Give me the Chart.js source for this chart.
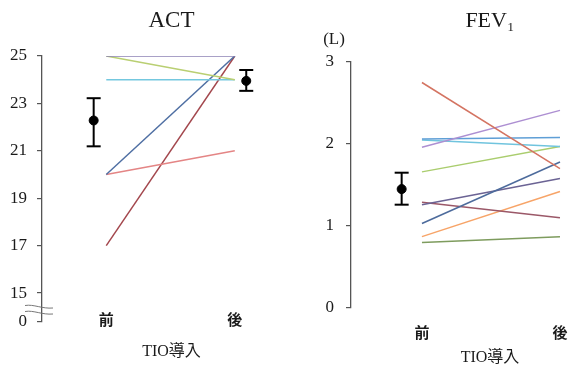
<!DOCTYPE html>
<html><head><meta charset="utf-8">
<script src="https://cdn.jsdelivr.net/npm/chart.js@4"></script>
<style>
html,body{margin:0;padding:0;background:#fff;overflow:hidden;width:568px;height:367px}
#a{position:absolute;left:0;top:0;width:310px;height:367px}
#b{position:absolute;left:300px;top:0;width:340px;height:367px}
</style></head><body>
<div id="a"><canvas id="ca"></canvas></div>
<div id="b"><canvas id="cb"></canvas></div>
<script>
// ---- data ----
const categories = ['前', '後'];
const actBefore = [25, 25, 24, 20, 20, 17];
const actAfter  = [25, 24, 24, 25, 21, 25];
const actColors = ['#8d82b4', '#b9cf72', '#74c8df', '#4f6fa3', '#e48585', '#a3474d'];
const actMean = [22.28, 23.95];
const actLow  = [21.19, 23.53];
const actHigh = [23.22, 24.41];
const actTicks = [0, 15, 17, 19, 21, 23, 25];

const fevBefore = [2.75, 1.96, 2.06, 2.05, 1.66, 1.03, 1.26, 1.29, 0.87, 0.80];
const fevAfter  = [1.70, 2.41, 2.08, 1.97, 1.97, 1.78, 1.58, 1.10, 1.42, 0.87];
const fevColors = ['#d47462', '#ad8fd2', '#5f9fd6', '#70c4de', '#aacd6e', '#4d6b9c', '#6b6394', '#9b5868', '#f7a468', '#7e9c5e'];
const fevMean = [1.45];
const fevLow  = [1.26];
const fevHigh = [1.65];
const fevTicks = [0, 1, 2, 3];

// ---- helpers ----
const SERIF = '"Liberation Serif", "Noto Sans CJK JP", serif';
const CJK = '"Noto Sans CJK JP", "Liberation Serif", sans-serif';
const INK = '#1a1a1a';
const AXIS = '#555';
const BREAK_BASE = 13.78; // position where the "0" of the broken ACT axis sits

function pairLines(before, after, colors) {
  return before.map((b, i) => ({
    type: 'line',
    data: [{x: 0, y: b}, {x: 1, y: after[i]}],
    borderColor: colors[i], borderWidth: 1.5, pointRadius: 0, fill: false
  }));
}
function errorBar(xPos, mean, low, high) {
  return [
    { type: 'line', data: [{x: xPos, y: low}, {x: xPos, y: high}], showLine: true,
      borderColor: '#000', borderWidth: 2, pointStyle: 'line', pointRadius: 7,
      pointBorderWidth: 2, pointBorderColor: '#000' },
    { type: 'line', data: [{x: xPos, y: mean}], showLine: false,
      pointStyle: 'circle', pointRadius: 4.5, pointBackgroundColor: '#000', pointBorderColor: '#000' }
  ];
}

const breakPlugin = {
  id: 'axisBreak',
  afterDraw(chart) {
    const y = chart.scales.y, ctx = chart.ctx;
    const left = chart.chartArea.left;
    const yb = y.getPixelForValue(BREAK_BASE) - 12;
    ctx.save();
    ctx.strokeStyle = '#777'; ctx.lineWidth = 1;
    [-3, 3].forEach(d => {
      ctx.beginPath();
      ctx.moveTo(left - 17, yb + d - 1.5);
      ctx.bezierCurveTo(left - 8, yb + d - 3, left, yb + d + 2, left + 11, yb + d + 1);
      ctx.stroke();
    });
    ctx.restore();
  }
};
const unitPlugin = {
  id: 'unitLabel',
  afterDraw(chart) {
    const ctx = chart.ctx, a = chart.chartArea;
    ctx.save();
    ctx.font = '17px ' + SERIF; ctx.fillStyle = INK;
    ctx.textAlign = 'center'; ctx.textBaseline = 'middle';
    ctx.fillText('(L)', a.left - 17, a.top - 22);
    ctx.restore();
  }
};

const common = {
  responsive: true, maintainAspectRatio: false, animation: false,
  plugins: { legend: { display: false }, tooltip: { enabled: false } }
};

function xScale(min, max, tickPad, titlePad, height) {
  return {
    type: 'linear', min, max,
    afterBuildTicks: s => { s.ticks = [{value: 0}, {value: 1}]; },
    afterFit: s => { s.height = height; s._computeLabelArea = () => undefined; },
    ticks: { callback: v => categories[v], padding: tickPad, autoSkip: false, maxRotation: 0,
             font: { family: CJK, size: 15, weight: 'bold' }, color: INK },
    grid: { display: false, drawTicks: false }, border: { display: false },
    title: { display: true, text: 'TIO導入', color: INK, font: { family: SERIF, size: 16 }, padding: titlePad }
  };
}

// ---- ACT ----
new Chart(document.getElementById('ca'), {
  type: 'line',
  data: { datasets: [
    ...pairLines(actBefore, actAfter, actColors),
    ...errorBar(-0.098, actMean[0], actLow[0], actHigh[0]),
    ...errorBar(1.089, actMean[1], actLow[1], actHigh[1])
  ]},
  options: {
    ...common,
    layout: { padding: { left: 0, right: 2, top: 0, bottom: 0 } },
    plugins: { ...common.plugins,
      title: { display: true, text: 'ACT', fullSize: false, color: INK,
               font: { family: SERIF, size: 23, weight: 'normal' }, padding: { top: 7, bottom: 21.4 } } },
    scales: {
      x: xScale(-0.5, 1.515, -12, { top: 0, bottom: 6 }, 45),
      y: {
        min: BREAK_BASE, max: 25,
        afterBuildTicks: s => { s.ticks = actTicks.map(v => ({ value: v === 0 ? BREAK_BASE : v })); },
        afterFit: s => { s.width = 42; },
        ticks: { callback: v => (v === BREAK_BASE ? '0' : String(v)), padding: 10, autoSkip: false,
                 font: { family: SERIF, size: 17 }, color: INK },
        grid: { drawOnChartArea: false, tickLength: 5, color: AXIS, lineWidth: 1.2 },
        border: { color: AXIS, width: 1.3 }
      }
    }
  },
  plugins: [breakPlugin]
});

// ---- FEV1 ----
new Chart(document.getElementById('cb'), {
  type: 'line',
  data: { datasets: [
    ...pairLines(fevBefore, fevAfter, fevColors),
    ...errorBar(-0.147, fevMean[0], fevLow[0], fevHigh[0])
  ]},
  options: {
    ...common,
    layout: { padding: { left: 0, right: 11, top: 0, bottom: 0 } },
    plugins: { ...common.plugins,
      title: { display: true, text: 'FEV₁', fullSize: false, color: INK,
               font: { family: SERIF, size: 22, weight: 'normal' }, padding: { top: 8.3, bottom: 27.3 } } },
    scales: {
      x: xScale(-0.514, 1.5, 15, { top: 0, bottom: 0 }, 59),
      y: {
        min: 0, max: 3,
        afterBuildTicks: s => { s.ticks = fevTicks.map(v => ({ value: v })); },
        afterFit: s => { s.width = 51; },
        ticks: { padding: 12, autoSkip: false, font: { family: SERIF, size: 17 }, color: INK },
        grid: { drawOnChartArea: false, tickLength: 5, color: AXIS, lineWidth: 1.2 },
        border: { color: AXIS, width: 1.3 }
      }
    }
  },
  plugins: [unitPlugin]
});
</script>
</body></html>
